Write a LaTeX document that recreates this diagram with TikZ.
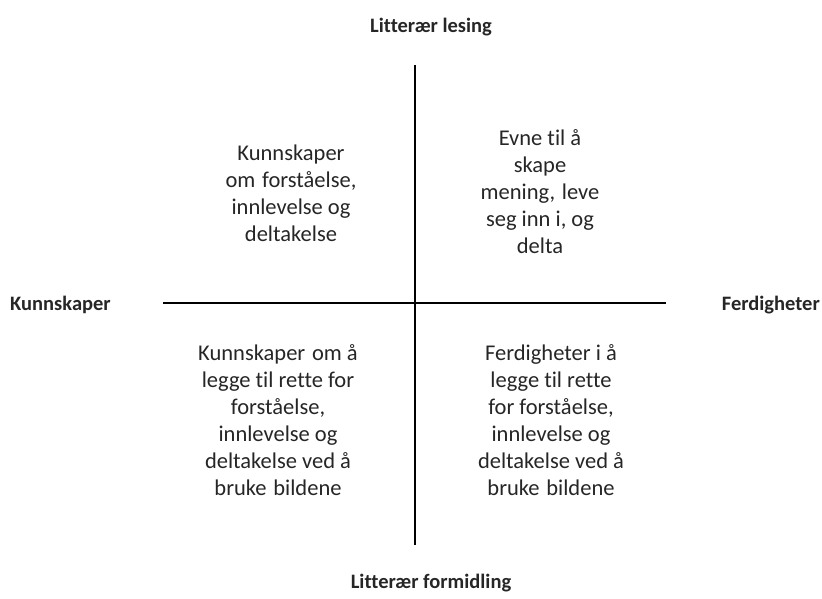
\documentclass[tikz,border=0pt]{standalone}
\usepackage{fontspec}
\setmainfont{Carlito}[Ligatures=NoCommon]
\definecolor{txt}{HTML}{262626}
\begin{document}
\begin{tikzpicture}[x=1pt,y=-1pt,
  axis/.style={line width=2.4pt,black},
  label/.style={font=\bfseries\fontsize{20.5}{24}\selectfont,text=txt,inner sep=0pt},
  body/.style={font=\fontsize{22.5}{27}\selectfont,text=txt,align=center,inner sep=0pt}]
\useasboundingbox (0,0) rectangle (822,599);
\coordinate (top) at (415,65);
\coordinate (bot) at (415,545);
\coordinate (left) at (163,303);
\coordinate (right) at (666,303);
\draw[axis] (top) -- (bot);
\draw[axis] (left) -- (right);
\node[label] (lt) at (431,27) {Litterær lesing};
\node[label] (lb) at (431,583) {Litterær formidling};
\node[label,anchor=west] (ll) at (10,305) {Kunnskaper};
\node[label,anchor=east] (lr) at (820,305) {Ferdigheter};
\node[body] (q1) at (291,193) {Kunnskaper\\om\hspace{0.3em}forståelse,\\innlevelse og\\deltakelse};
\node[body] (q2) at (540,192) {Evne til å\\skape\\mening,\hspace{0.3em}leve\\seg inn i, og\\delta};
\node[body] (q3) at (278,420) {Kunnskaper\hspace{0.3em}om å\\legge til rette for\\forståelse,\\innlevelse og\\deltakelse ved å\\bruke\hspace{0.3em}bildene};
\node[body] (q4) at (551,420) {Ferdigheter i å\\legge til rette\\for forståelse,\\innlevelse og\\deltakelse ved å\\bruke\hspace{0.3em}bildene};
\end{tikzpicture}
\end{document}
